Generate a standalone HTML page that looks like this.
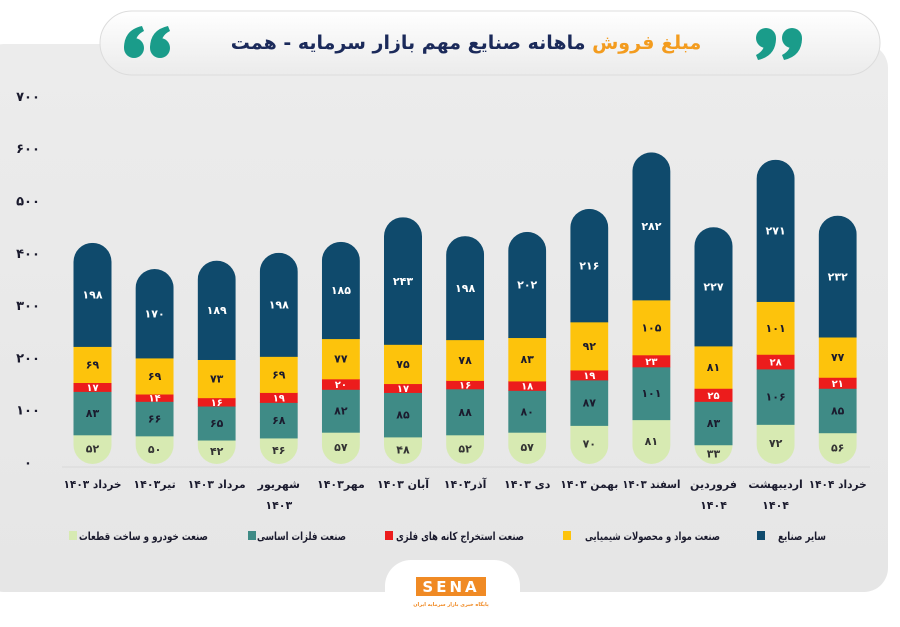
<!DOCTYPE html>
<html><head><meta charset="utf-8">
<style>
body{margin:0;width:900px;height:623px;background:#fff;overflow:hidden;font-family:"DejaVu Sans",sans-serif;}
svg text{font-family:"DejaVu Sans",sans-serif;font-weight:bold;}
</style></head>
<body>
<svg id="chart" width="900" height="623" viewBox="0 0 900 623" xmlns="http://www.w3.org/2000/svg">
<defs>
<linearGradient id="pg" x1="0" y1="0" x2="0" y2="1"><stop offset="0" stop-color="#ececec"/><stop offset="1" stop-color="#e6e6e6"/></linearGradient>
<linearGradient id="tg" x1="0" y1="0" x2="0" y2="1"><stop offset="0" stop-color="#ffffff"/><stop offset="1" stop-color="#ebebeb"/></linearGradient>
</defs>
<rect x="-20" y="44" width="908" height="548" rx="24" fill="url(#pg)"/>
<rect x="385" y="560" width="135" height="63" rx="26" fill="#fff"/>
<rect x="100" y="11" width="780" height="64" rx="32" fill="url(#tg)" stroke="#dcdcdc"/>
<g fill="#1a9c8a">
<circle cx="134" cy="48" r="10"/><path d="M124 48 Q124 30 142 26 L144 31 Q134 36 136 46 Z"/>
<circle cx="160" cy="48" r="10"/><path d="M150 48 Q150 30 168 26 L170 31 Q160 36 162 46 Z"/>
</g>
<g fill="#1a9c8a">
<circle cx="766" cy="38" r="10"/><path d="M776 38 Q776 56 758 60 L756 55 Q766 50 764 40 Z"/>
<circle cx="792" cy="38" r="10"/><path d="M802 38 Q802 56 784 60 L782 55 Q792 50 790 40 Z"/>
</g>
<text x="466" y="49" font-size="19" text-anchor="middle" direction="rtl" fill="#1b2a5a"><tspan fill="#f39c1f">مبلغ فروش</tspan> ماهانه صنایع مهم بازار سرمایه - همت</text>
<g id="axis"></g>
<g id="bars"></g>
<g id="legend"></g>
<g>
<rect x="416" y="577" width="70" height="19" fill="#f08a24"/>
<text x="451" y="592" font-size="15" fill="#fff" text-anchor="middle" font-family="Liberation Sans" letter-spacing="3">SENA</text>
<text x="451" y="606" font-size="5" fill="#f08a24" text-anchor="middle">پایگاه خبری بازار سرمایه ایران</text>
</g>
</svg>
<script>
const categories=["خرداد ۱۴۰۳","تیر۱۴۰۳","مرداد ۱۴۰۳","شهریور|۱۴۰۳","مهر۱۴۰۳","آبان ۱۴۰۳","آذر۱۴۰۳","دی ۱۴۰۳","بهمن ۱۴۰۳","اسفند ۱۴۰۳","فروردین|۱۴۰۴","اردیبهشت|۱۴۰۴","خرداد ۱۴۰۴"];
const autoParts=[52,50,42,46,57,48,52,57,70,81,33,72,56];
const metals=[83,66,65,68,82,85,88,80,87,101,83,106,85];
const mining=[17,14,16,19,20,17,16,18,19,23,25,28,21];
const chemicals=[69,69,73,69,77,75,78,83,92,105,81,101,77];
const others=[198,170,189,198,185,243,198,202,216,282,227,271,232];
const yTicks=[0,100,200,300,400,500,600,700];
const seriesNames=["سایر صنایع","صنعت مواد و محصولات شیمیایی","صنعت استخراج کانه های فلزی","صنعت فلزات اساسی","صنعت خودرو و ساخت قطعات"];

const NS="http://www.w3.org/2000/svg";
const base=462, k=0.523, x0=92.5, step=62.1, bw=38;
const y=v=>base-v*k;
const x=i=>x0+i*step;
const fa=n=>String(n).replace(/\d/g,d=>"۰۱۲۳۴۵۶۷۸۹"[d]);
function mk(tag,attrs,parent){const e=document.createElementNS(NS,tag);for(const a in attrs)e.setAttribute(a,attrs[a]);parent.appendChild(e);return e;}
const axis=document.getElementById('axis'),bars=document.getElementById('bars'),legend=document.getElementById('legend');
yTicks.forEach(t=>{
  const tx=mk('text',{x:28,y:y(t)+5,'font-size':13,fill:'#1b1b2e','text-anchor':'middle'},axis);
  
  
  tx.textContent=fa(t);
});
const bl=mk('line',{x1:62,x2:870,y1:base+5,y2:base+5,stroke:'#d8d8d8','stroke-width':1},axis);


const series=[
 {d:autoParts,c:'#d7eab2',t:'#333',n:'auto'},
 {d:metals,c:'#3f8b86',t:'#1b1b2e',n:'metals'},
 {d:mining,c:'#ec1c1c',t:'#fff',n:'mining'},
 {d:chemicals,c:'#fdc30c',t:'#1b1b2e',n:'chemicals'},
 {d:others,c:'#0f4a6c',t:'#fff',n:'others'}];
categories.forEach((cat,i)=>{
  const g=mk('g',{},bars);
  
  
  const total=series.reduce((s,se)=>s+se.d[i],0);
  const cid='clip'+i;
  const cp=mk('clipPath',{id:cid},g);
  mk('rect',{x:x(i)-bw/2,y:y(total),width:bw,height:(y(0)-y(total))+2,rx:bw/2},cp);
  const inner=mk('g',{'clip-path':'url(#'+cid+')'},g);
  let acc=0;
  series.forEach(se=>{
    const v=se.d[i];
    const r=mk('rect',{x:x(i)-bw/2,y:y(acc+v),width:bw,height:y(acc)-y(acc+v)+(acc===0?2:0.5),fill:se.c},inner);
    
    
    const tx=mk('text',{x:x(i),y:(y(acc)+y(acc+v))/2+4,'font-size':v<30?10:11,fill:se.t,'text-anchor':'middle'},g);
    
    
    tx.textContent=fa(v);
    acc+=v;
  });
  const parts=cat.split('|');
  parts.forEach((p,j)=>{
    const tx=mk('text',{x:x(i),y:488+j*21,'font-size':11,fill:'#1b1b2e','text-anchor':'middle',direction:'rtl'},bars);
    
    
    tx.textContent=p;
    const w=tx.getComputedTextLength();
    if(w>58){tx.setAttribute('textLength',58);tx.setAttribute('lengthAdjust','spacingAndGlyphs');}
  });
});
const legendItems=[
 {n:seriesNames[0],c:'#0f4a6c',sx:757,tx:778,w:48},
 {n:seriesNames[1],c:'#fdc30c',sx:563,tx:585,w:135},
 {n:seriesNames[2],c:'#ec1c1c',sx:385,tx:396,w:128},
 {n:seriesNames[3],c:'#3f8b86',sx:248,tx:257,w:89},
 {n:seriesNames[4],c:'#d7eab2',sx:69,tx:79,w:129}];
legendItems.forEach(it=>{
  const g=mk('g',{},legend);
  
  
  mk('rect',{x:it.sx,y:531,width:8,height:9,fill:it.c},g);
  const tx=mk('text',{x:it.tx,y:540,'font-size':11,fill:'#1b1b2e','text-anchor':'start',textLength:it.w,lengthAdjust:'spacingAndGlyphs',direction:'ltr','unicode-bidi':'embed'},g);
  tx.textContent=it.n;
});
</script>
</body></html>
